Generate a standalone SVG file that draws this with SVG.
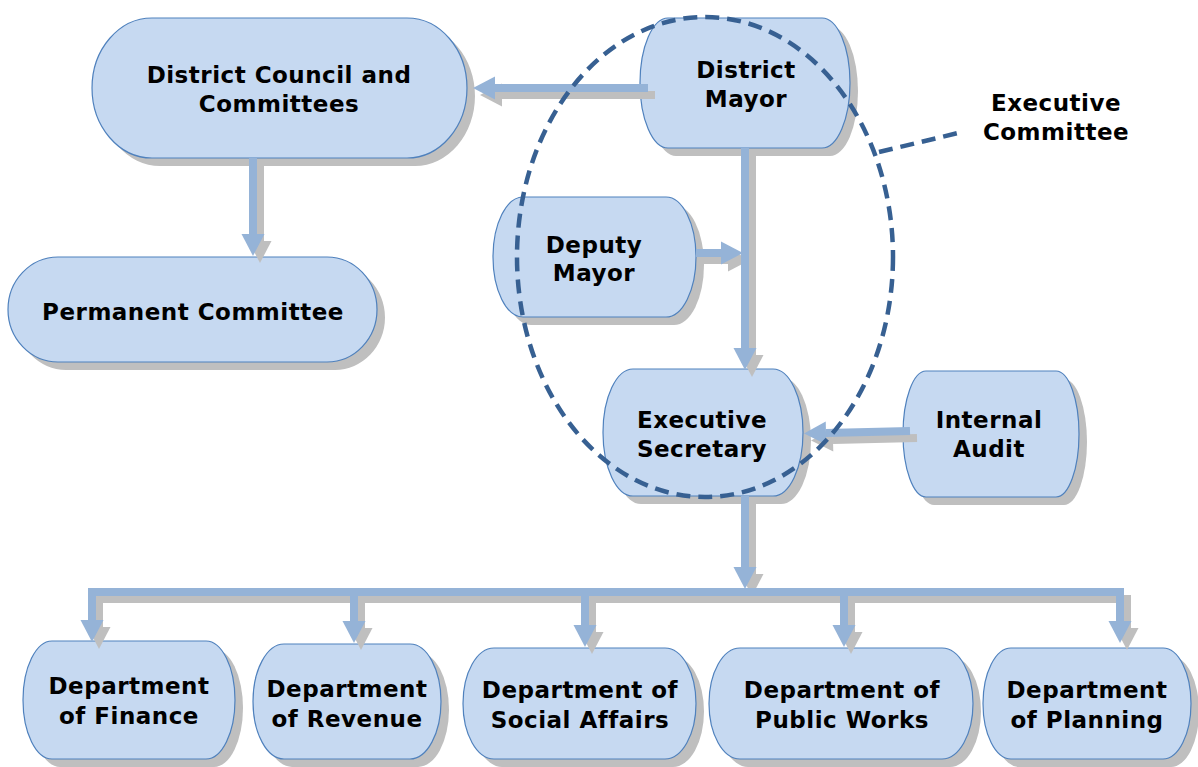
<svg xmlns="http://www.w3.org/2000/svg" width="1198" height="767" viewBox="0 0 1198 767">
<style>
.shape{fill:#c6d9f1;stroke:#4f81bd;stroke-width:1.2}
.shadow{fill:#bfbfbf}
.lbl{font-family:"DejaVu Sans","Verdana",sans-serif;font-weight:bold;font-size:23px;fill:#000;text-anchor:middle;letter-spacing:0.5px}
.con{fill:none;stroke:#95b3d7;stroke-width:8}
.conS{fill:none;stroke:#bfbfbf;stroke-width:8}
.dash{fill:none;stroke:#376092;stroke-width:4.5;stroke-dasharray:14 8}
</style>
<defs>
<marker id="ab" markerUnits="userSpaceOnUse" markerWidth="24" markerHeight="24" refX="0" refY="11.5" orient="auto" overflow="visible"><path d="M0,0 L22,11.5 L0,23 Z" fill="#95b3d7"/></marker>
<marker id="ag" markerUnits="userSpaceOnUse" markerWidth="24" markerHeight="24" refX="0" refY="11.5" orient="auto" overflow="visible"><path d="M0,0 L22,11.5 L0,23 Z" fill="#bfbfbf"/></marker>
</defs>
<rect width="1198" height="767" fill="#fff"/>

<g id="n-council">
<path class="shadow" transform="translate(8,8)" d="M152,18 H407 A60,70 0 0 1 407,158 H152 A60,70 0 0 1 152,18 Z"/>
<path class="shape" d="M152,18 H407 A60,70 0 0 1 407,158 H152 A60,70 0 0 1 152,18 Z"/>
<text class="lbl" x="279" y="83">District Council and</text>
<text class="lbl" x="279" y="112">Committees</text>
</g>

<g id="n-mayor">
<path class="shadow" transform="translate(8,8)" d="M668,18 H822 A28,65 0 0 1 822,148 H668 A28,65 0 0 1 668,18 Z"/>
<path class="shape" d="M668,18 H822 A28,65 0 0 1 822,148 H668 A28,65 0 0 1 668,18 Z"/>
<text class="lbl" x="746" y="78">District</text>
<text class="lbl" x="746" y="107">Mayor</text>
</g>

<g id="n-deputy">
<path class="shadow" transform="translate(8,8)" d="M523,197 H666 A30,60 0 0 1 666,317 H523 A30,60 0 0 1 523,197 Z"/>
<path class="shape" d="M523,197 H666 A30,60 0 0 1 666,317 H523 A30,60 0 0 1 523,197 Z"/>
<text class="lbl" x="594" y="253">Deputy</text>
<text class="lbl" x="594" y="281">Mayor</text>
</g>

<g id="n-permanent">
<path class="shadow" transform="translate(8,8)" d="M58,257 H327 A50,52.5 0 0 1 327,362 H58 A50,52.5 0 0 1 58,257 Z"/>
<path class="shape" d="M58,257 H327 A50,52.5 0 0 1 327,362 H58 A50,52.5 0 0 1 58,257 Z"/>
<text class="lbl" x="193" y="320">Permanent Committee</text>
</g>

<g id="n-secretary">
<path class="shadow" transform="translate(8,8)" d="M633,369 H773 A30,63.5 0 0 1 773,496 H633 A30,63.5 0 0 1 633,369 Z"/>
<path class="shape" d="M633,369 H773 A30,63.5 0 0 1 773,496 H633 A30,63.5 0 0 1 633,369 Z"/>
<text class="lbl" x="702" y="428">Executive</text>
<text class="lbl" x="702" y="457">Secretary</text>
</g>

<g id="n-audit">
<path class="shadow" transform="translate(8,8)" d="M926,371 H1056 A23,63 0 0 1 1056,497 H926 A23,63 0 0 1 926,371 Z"/>
<path class="shape" d="M926,371 H1056 A23,63 0 0 1 1056,497 H926 A23,63 0 0 1 926,371 Z"/>
<text class="lbl" x="989" y="428">Internal</text>
<text class="lbl" x="989" y="457">Audit</text>
</g>

<g id="n-finance">
<path class="shadow" transform="translate(8,8)" d="M52,641 H206 A29,59 0 0 1 206,759 H52 A29,59 0 0 1 52,641 Z"/>
<path class="shape" d="M52,641 H206 A29,59 0 0 1 206,759 H52 A29,59 0 0 1 52,641 Z"/>
<text class="lbl" x="129" y="694">Department</text>
<text class="lbl" x="129" y="724">of Finance</text>
</g>

<g id="n-revenue">
<path class="shadow" transform="translate(8,8)" d="M284,644 H410 A31,57.5 0 0 1 410,759 H284 A31,57.5 0 0 1 284,644 Z"/>
<path class="shape" d="M284,644 H410 A31,57.5 0 0 1 410,759 H284 A31,57.5 0 0 1 284,644 Z"/>
<text class="lbl" x="347" y="697">Department</text>
<text class="lbl" x="347" y="727">of Revenue</text>
</g>

<g id="n-social">
<path class="shadow" transform="translate(8,8)" d="M494,648 H665 A31,55.5 0 0 1 665,759 H494 A31,55.5 0 0 1 494,648 Z"/>
<path class="shape" d="M494,648 H665 A31,55.5 0 0 1 665,759 H494 A31,55.5 0 0 1 494,648 Z"/>
<text class="lbl" x="580" y="698">Department of</text>
<text class="lbl" x="580" y="728">Social Affairs</text>
</g>

<g id="n-works">
<path class="shadow" transform="translate(8,8)" d="M740,648 H942 A31,55.5 0 0 1 942,759 H740 A31,55.5 0 0 1 740,648 Z"/>
<path class="shape" d="M740,648 H942 A31,55.5 0 0 1 942,759 H740 A31,55.5 0 0 1 740,648 Z"/>
<text class="lbl" x="842" y="698">Department of</text>
<text class="lbl" x="842" y="728">Public Works</text>
</g>

<g id="n-planning">
<path class="shadow" transform="translate(8,8)" d="M1011,648 H1163 A28,55.5 0 0 1 1163,759 H1011 A28,55.5 0 0 1 1011,648 Z"/>
<path class="shape" d="M1011,648 H1163 A28,55.5 0 0 1 1163,759 H1011 A28,55.5 0 0 1 1011,648 Z"/>
<text class="lbl" x="1087" y="698">Department</text>
<text class="lbl" x="1087" y="728">of Planning</text>
</g>

<g id="connectors">
<g transform="translate(7,7)">
<path class="conS" marker-end="url(#ag)" d="M648,88 H495"/>
<path class="conS" marker-end="url(#ag)" d="M253,158 V234"/>
<path class="conS" marker-end="url(#ag)" d="M745,148 V348"/>
<path class="conS" marker-end="url(#ag)" d="M696,253 H721"/>
<path class="conS" marker-end="url(#ag)" d="M910,431 L826,433"/>
<path class="conS" marker-end="url(#ag)" d="M745,496 V567"/>
<path class="conS" d="M88,592 H1124"/>
<path class="conS" marker-end="url(#ag)" d="M92,592 V620"/>
<path class="conS" marker-end="url(#ag)" d="M354,592 V621"/>
<path class="conS" marker-end="url(#ag)" d="M585,592 V625"/>
<path class="conS" marker-end="url(#ag)" d="M844,592 V625"/>
<path class="conS" marker-end="url(#ag)" d="M1120,592 V621"/>
</g>
<path class="con" marker-end="url(#ab)" d="M648,88 H495"/>
<path class="con" marker-end="url(#ab)" d="M253,158 V234"/>
<path class="con" marker-end="url(#ab)" d="M745,148 V348"/>
<path class="con" marker-end="url(#ab)" d="M696,253 H721"/>
<path class="con" marker-end="url(#ab)" d="M910,431 L826,433"/>
<path class="con" marker-end="url(#ab)" d="M745,496 V567"/>
<path class="con" d="M88,592 H1124"/>
<path class="con" marker-end="url(#ab)" d="M92,592 V620"/>
<path class="con" marker-end="url(#ab)" d="M354,592 V621"/>
<path class="con" marker-end="url(#ab)" d="M585,592 V625"/>
<path class="con" marker-end="url(#ab)" d="M844,592 V625"/>
<path class="con" marker-end="url(#ab)" d="M1120,592 V621"/>
</g>

<g id="executive-committee">
<ellipse class="dash" cx="705" cy="257" rx="188" ry="240"/>
<path class="dash" d="M879,152 L958,133"/>
<text class="lbl" x="1056" y="111">Executive</text>
<text class="lbl" x="1056" y="140">Committee</text>
</g>
</svg>
